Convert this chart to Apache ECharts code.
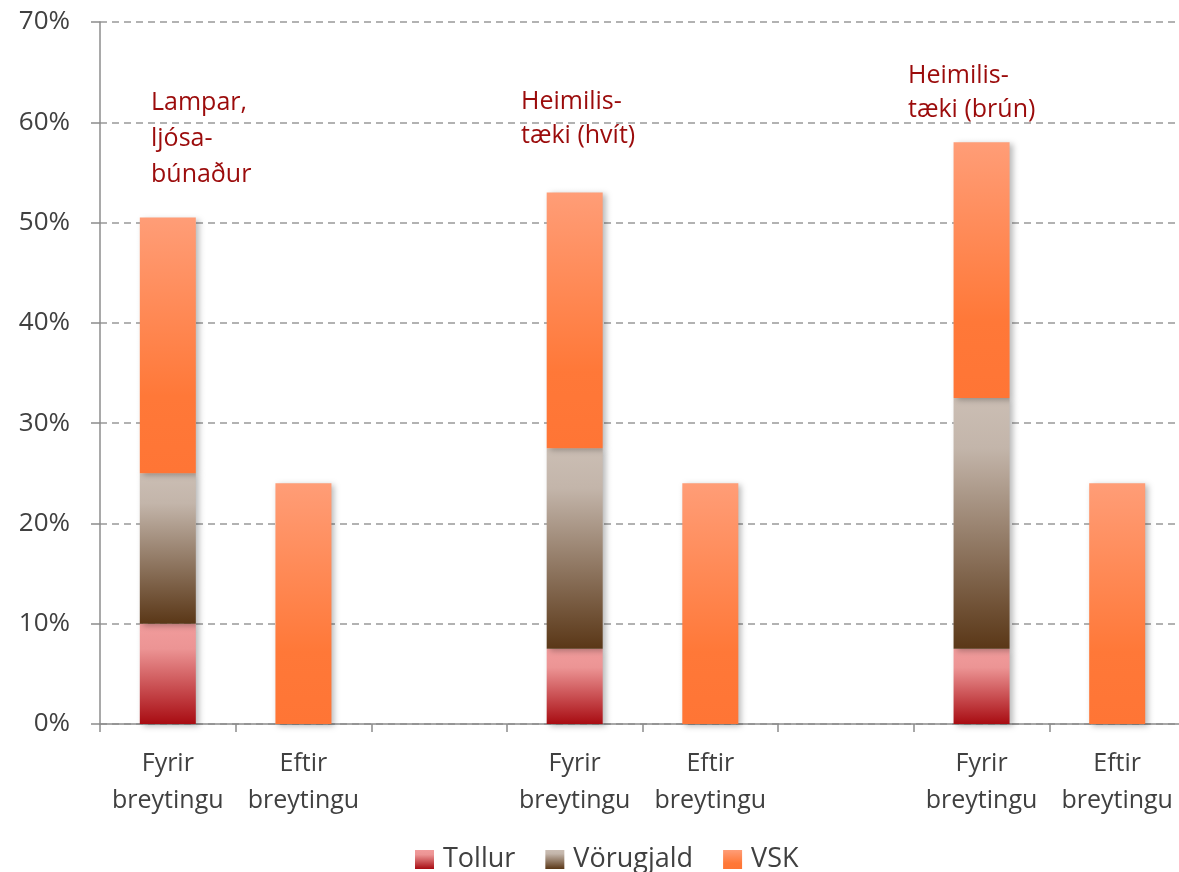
<!DOCTYPE html>
<html>
<head>
<meta charset="utf-8">
<script src="https://cdn.jsdelivr.net/npm/echarts@6/dist/echarts.min.js"></script>
<style>
html,body{margin:0;padding:0;background:#fff;}
#chart{width:1179px;height:872px;}
</style>
</head>
<body>
<div id="chart"></div>
<script>
const categories = ["Fyrir\nbreytingu", "Eftir\nbreytingu", "", "Fyrir\nbreytingu", "Eftir\nbreytingu", "", "Fyrir\nbreytingu", "Eftir\nbreytingu"];
const tollur = [10, null, null, 7.5, null, null, 7.5, null];
const vorugjald = [15, null, null, 20, null, null, 25, null];
const vsk = [25.5, 24, null, 25.5, 24, null, 25.5, 24];
const yTicks = [0, 10, 20, 30, 40, 50, 60, 70];
const groupNotes = ["Lampar,\nljósa-\nbúnaður", "Heimilis-\ntæki (hvít)", "Heimilis-\ntæki (brún)"];

const FONT = '"Open Sans"';
const shadow = {shadowBlur: 6, shadowOffsetX: 3, shadowOffsetY: 2, shadowColor: 'rgba(0,0,0,0.28)'};
function grad(stops) {
  return new echarts.graphic.LinearGradient(0, 0, 0, 1, stops.map(s => ({offset: s[0], color: s[1]})));
}
const cTollur = grad([[0, '#f19c9c'], [0.25, '#ec9494'], [1, '#a80c12']]);
const cVoru = grad([[0, '#cbbeb4'], [0.2, '#c3b5aa'], [1, '#5a3717']]);
const cVsk = grad([[0, '#ff9d77'], [0.7, '#ff7838'], [1, '#ff7535']]);

const chart = echarts.init(document.getElementById('chart'), null, {renderer: 'canvas'});
const mkSeries = (name, data, color) => ({
  name, type: 'bar', stack: 'total', data, barWidth: 56,
  itemStyle: Object.assign({color}, shadow),
  emphasis: {disabled: true}
});
const noteStyle = {fill: '#9b0b0b', fontFamily: 'Open Sans', fontSize: 25};
chart.setOption({
  animation: false,
  backgroundColor: '#ffffff',
  grid: {left: 100, width: 1085, top: 22, bottom: 148, containLabel: false, outerBoundsMode: 'none'},
  xAxis: {
    type: 'category', data: categories,
    axisLine: {lineStyle: {color: '#8c8c8c', width: 1.5}},
    axisTick: {show: true, length: 8, lineStyle: {color: '#8c8c8c', width: 1.5}},
    axisLabel: {color: '#404040', fontFamily: FONT, fontSize: 25, lineHeight: 37, margin: 21, interval: 0}
  },
  yAxis: {
    type: 'value', min: yTicks[0], max: yTicks[yTicks.length - 1], interval: 10,
    axisLine: {show: true, lineStyle: {color: '#8c8c8c', width: 1.5}},
    axisTick: {show: true, length: 9, lineStyle: {color: '#8c8c8c', width: 1.5}},
    axisLabel: {color: '#404040', fontFamily: FONT, fontSize: 26, margin: 30, formatter: '{value}%'},
    splitLine: {show: true, lineStyle: {color: '#999999', width: 1.5, type: [7, 5]}}
  },
  legend: {
    left: 410, top: 841, itemWidth: 19, itemHeight: 19, itemGap: 30,
    icon: 'rect',
    textStyle: {color: '#404040', fontFamily: FONT, fontSize: 27, padding: [0, 0, 0, 4]},
    data: ['Tollur', 'Vörugjald', 'VSK']
  },
  series: [
    mkSeries('Tollur', tollur, cTollur),
    mkSeries('Vörugjald', vorugjald, cVoru),
    mkSeries('VSK', vsk, cVsk)
  ],
  graphic: [
    {type: 'text', left: 151, top: 85, style: Object.assign({text: groupNotes[0], lineHeight: 36}, noteStyle)},
    {type: 'text', left: 521, top: 85, style: Object.assign({text: groupNotes[1], lineHeight: 34}, noteStyle)},
    {type: 'text', left: 908, top: 59, style: Object.assign({text: groupNotes[2], lineHeight: 34}, noteStyle)}
  ]
});
</script>
</body>
</html>
